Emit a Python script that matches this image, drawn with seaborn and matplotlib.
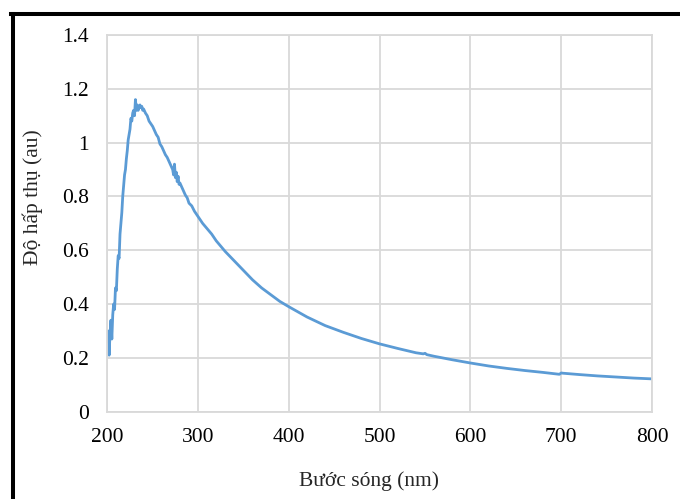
import matplotlib
matplotlib.use('Agg')
import matplotlib.pyplot as plt
import seaborn as sns
import pandas as pd
from matplotlib.lines import Line2D

# ----------------------------------------------------------------------
# Data
# ----------------------------------------------------------------------
wavelength = [
    200, 201, 202, 203, 204, 205, 206, 207, 208, 209, 210, 211, 212, 213, 214,
    215, 216, 217, 218, 219, 220, 221, 222, 223, 224, 225, 226, 227, 228, 229,
    230, 231, 232, 233, 234, 235, 236, 237, 238, 239, 240, 242, 244, 246, 248,
    250, 252, 254, 256, 258, 260, 262, 264, 266, 268, 270, 272, 273, 274, 275,
    276, 277, 278, 279, 280, 282, 284, 286, 288, 290, 293, 296, 300, 305, 310,
    315, 320, 325, 330, 340, 350, 360, 370, 380, 390, 400, 420, 440, 460, 480,
    500, 520, 540, 548, 550, 552, 560, 580, 600, 620, 640, 660, 680, 698, 700,
    702, 720, 740, 760, 780, 800,
]
absorbance = [
    0.26, 0.30, 0.21, 0.29, 0.34, 0.27, 0.36, 0.40, 0.38, 0.46, 0.45, 0.53, 0.58, 0.57, 0.66,
    0.70, 0.74, 0.80, 0.84, 0.88, 0.90, 0.94, 0.97, 1.01, 1.03, 1.05, 1.09, 1.08, 1.11, 1.12,
    1.10, 1.16, 1.12, 1.14, 1.12, 1.13, 1.14, 1.13, 1.135, 1.12, 1.125, 1.11, 1.10, 1.08, 1.07,
    1.06, 1.045, 1.03, 1.02, 0.995, 0.985, 0.97, 0.955, 0.945, 0.93, 0.915, 0.90, 0.88, 0.92, 0.87,
    0.89, 0.855, 0.875, 0.845, 0.85, 0.835, 0.82, 0.805, 0.795, 0.775, 0.765, 0.745, 0.725, 0.70, 0.68,
    0.66, 0.635, 0.615, 0.595, 0.56, 0.525, 0.49, 0.46, 0.435, 0.41, 0.39, 0.352, 0.32, 0.295, 0.272,
    0.252, 0.235, 0.219, 0.215, 0.217, 0.212, 0.206, 0.193, 0.181, 0.17, 0.161, 0.153, 0.146, 0.139, 0.144,
    0.143, 0.138, 0.133, 0.129, 0.125, 0.122,
]
x_ticks = [200, 300, 400, 500, 600, 700, 800]
y_ticks = [0, 0.2, 0.4, 0.6, 0.8, 1.0, 1.2, 1.4]
y_tick_labels = ['0', '0.2', '0.4', '0.6', '0.8', '1', '1.2', '1.4']

df = pd.DataFrame({'wavelength': wavelength, 'absorbance': absorbance})

sns.set_style('white')
plt.rcParams['font.family'] = ['Liberation Serif', 'DejaVu Serif']

fig = plt.figure(figsize=(6.8, 4.99), dpi=100)
ax = fig.add_axes([107.3 / 680, 1 - 411.7 / 499, (652 - 107.3) / 680, (411.7 - 35) / 499])

sns.lineplot(data=df, x='wavelength', y='absorbance', ax=ax,
             color='#5B9BD5', linewidth=2.0)

ax.set_xlim(200, 800)
ax.set_ylim(0, 1.4)
ax.set_xticks(x_ticks)
ax.set_yticks(y_ticks)
ax.set_yticklabels(y_tick_labels)
ax.grid(True, color='#D9D9D9', linewidth=1.3)
ax.set_axisbelow(True)
for s in ax.spines.values():
    s.set_color('#D9D9D9')
    s.set_linewidth(1.3)
ax.tick_params(axis='both', length=0, labelsize=15.5, colors='black')
ax.tick_params(axis='y', pad=13)
ax.tick_params(axis='x', pad=12)
ax.set_xlabel('')
ax.set_ylabel('')

fig.text(369 / 680, 1 - 481 / 499, 'Bước sóng (nm)', ha='center', va='center', fontsize=15.5)
fig.text(33 / 680, 1 - 197 / 499, 'Độ hấp thụ (au)', ha='center', va='center',
         rotation=90, fontsize=15.5)

# black frame visible on the top and left edges
fig.add_artist(Line2D([11 / 680, 1.0], [1 - 14 / 499, 1 - 14 / 499],
                      transform=fig.transFigure, color='black', linewidth=2.9,
                      solid_capstyle='projecting'))
fig.add_artist(Line2D([13 / 680, 13 / 680], [0, 1 - 14 / 499],
                      transform=fig.transFigure, color='black', linewidth=2.9,
                      solid_capstyle='projecting'))

fig.savefig('out.png', dpi=100)
